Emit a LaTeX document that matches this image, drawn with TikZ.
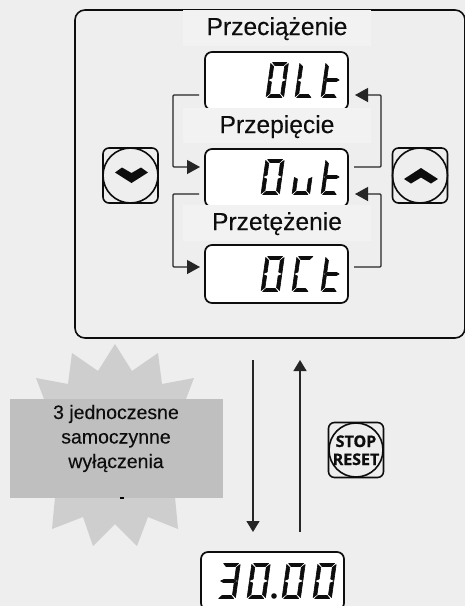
\documentclass[tikz,border=0pt]{standalone}
\usepackage{fontspec}
\setmainfont{Liberation Sans}[FakeBold=0.2]
\newfontfamily\plainfont{Liberation Sans}[FakeBold=0.2]
\newfontfamily\btnfont{Open Sans Bold}[FakeBold=0.7]
\usetikzlibrary{arrows.meta}
\definecolor{bgc}{HTML}{EEEEEE}
\definecolor{labelc}{HTML}{F2F2F2}
\definecolor{starc}{HTML}{CECECE}
\definecolor{rectc}{HTML}{BFBFBF}
\definecolor{inkc}{HTML}{0D0D0D}
\definecolor{linec}{HTML}{262626}
\tikzset{
  panelbox/.style={draw=inkc,line width=1.6pt,rounded corners=10pt,minimum width=390pt,minimum height=328pt,inner sep=0pt,outer sep=0pt},
  display/.style={draw=inkc,fill=white,line width=1.7pt,rounded corners=7pt,minimum width=143pt,minimum height=58pt,inner sep=0pt,outer sep=0pt},
  labelbox/.style={fill=labelc,minimum width=188pt,inner sep=0pt,outer sep=0pt},
  title/.style={anchor=base,font=\plainfont\fontsize{24.6}{28}\selectfont,text=inkc,inner sep=0pt},
  alarm/.style={anchor=base,font=\plainfont\fontsize{19.5}{24}\selectfont,text=inkc,inner sep=0pt},
  keybox/.style={draw=inkc,line width=1.6pt,rounded corners=6pt,minimum width=55pt,minimum height=55pt,inner sep=0pt,outer sep=0pt},
  keyring/.style={draw=inkc,line width=1.6pt,circle,minimum size=55pt,inner sep=0pt,outer sep=0pt},
  link/.style={draw=linec,line width=1.3pt,rounded corners=1pt},
  head/.style={-{Triangle[length=13pt,width=14pt]}},
  vhead/.style={-{Triangle[length=11pt,width=13pt]}},
}
% seven-segment shapes in a cell 16 wide, 35 high, origin bottom-left, y down
\newcommand\sega{(1.5,-35)--(14.5,-35)--(12,-32)--(4,-32)--cycle}
\newcommand\segb{(16,-34)--(13,-31)--(13,-19.5)--(16,-18)--cycle}
\newcommand\segc{(16,-17)--(13,-15.5)--(13,-4)--(16,-1)--cycle}
\newcommand\segd{(1.5,0)--(14.5,0)--(12,-3)--(4,-3)--cycle}
\newcommand\sege{(0,-17)--(3,-15.5)--(3,-4)--(0,-1)--cycle}
\newcommand\segf{(0,-34)--(3,-31)--(3,-19.5)--(0,-18)--cycle}
\newcommand\segg{(1,-17.5)--(3.5,-19)--(12.5,-19)--(15,-17.5)--(12.5,-16)--(3.5,-16)--cycle}
\newcommand\sevenseg[4]{%
  \begin{scope}[shift={(#1,#2)},xslant=0.14,xscale=#4]
    \foreach \s in {#3}{\filldraw[inkc,line width=0.6pt,line join=round] \csname seg\s\endcsname;}
  \end{scope}}
\begin{document}
\begin{tikzpicture}[x=1pt,y=-1pt]
  \useasboundingbox (0,0) rectangle (465,606);
  \clip (0,0) rectangle (465,606);
  \fill[bgc] (0,0) rectangle (465,606);

  % main panel
  \node[panelbox] (panel) at (270,174) {};

  % displays
  \node[display] (d1) at (276.5,81) {};
  \node[display] (d2) at (276.5,178) {};
  \node[display] (d3) at (276.5,274) {};
  \node[display] (d4) at (272.5,581) {};

  % label strips
  \node[labelbox,minimum height=36pt] (s1) at (277,28) {};
  \node[labelbox,minimum height=35pt] (s2) at (277,125.5) {};
  \node[labelbox,minimum height=36pt] (s3) at (277,223) {};
  \node[title] (t1) at (277,35) {Przeciążenie};
  \node[title] (t2) at (277,133) {Przepięcie};
  \node[title] (t3) at (277,230) {Przetężenie};

  % display glyphs
  \sevenseg{266}{97.5}{a,b,c,d,e,f}{1.1}
  \sevenseg{295}{97.5}{d,e,f}{1.1}
  \sevenseg{321}{97.5}{d,e,f,g}{1.05}
  \sevenseg{261}{194.5}{a,b,c,d,e,f}{1.15}
  \sevenseg{292}{194.5}{c,d,e}{1.1}
  \sevenseg{321}{194.5}{d,e,f,g}{1.05}
  \sevenseg{261}{291.5}{a,b,c,d,e,f}{1.15}
  \sevenseg{292}{291.5}{a,d,e,f}{1.1}
  \sevenseg{321}{291.5}{d,e,f,g}{1.05}
  \sevenseg{217}{598.5}{a,b,c,d,g}{1.15}
  \sevenseg{247}{598.5}{a,b,c,d,e,f}{1.15}
  \sevenseg{282}{598.5}{a,b,c,d,e,f}{1.15}
  \sevenseg{313}{598.5}{a,b,c,d,e,f}{1.15}
  \fill[inkc] (274,596) circle (2.8);

  % cycle connectors
  \draw[link,head] ([shift={(-6pt,-14pt)}]d1.west) -- ++(-26pt,0pt) |- ([shift={(-5pt,11pt)}]d2.west);
  \draw[link,head] ([shift={(6pt,11pt)}]d2.east) -- ++(27pt,0pt) |- ([shift={(7pt,-14pt)}]d1.east);
  \draw[link,head] ([shift={(-6pt,-16pt)}]d2.west) -- ++(-26pt,0pt) |- ([shift={(-5pt,7pt)}]d3.west);
  \draw[link,head] ([shift={(6pt,7pt)}]d3.east) -- ++(27pt,0pt) |- ([shift={(7pt,-16pt)}]d2.east);

  % keys
  \node[keybox] (kd) at (130.5,175.5) {};
  \node[keyring] (kdr) at (130.5,175.5) {};
  \fill[inkc] (115,172.5)--(122,167.5)--(131.5,173)--(141,167.5)--(148,172.5)--(131.5,183)--cycle;
  \node[keybox] (ku) at (420,175.5) {};
  \node[keyring] (kur) at (420,175.5) {};
  \fill[inkc] (404,179)--(421,168)--(438,179)--(431,183.5)--(421,177.5)--(411,183.5)--cycle;

  % alarm burst
  \fill[starc] (115,344)--(132,371)--(158,353)--(162,384)--(194,378)--(186,399)
     --(186,497)--(175,497)--(178,529)--(148,517)--(137,546)--(115,524)--(93,546)--(83,517)--(52,529)--(55,497)
     --(44,497)--(44,399)--(36,378)--(68,384)--(72,353)--(98,371)--cycle;
  \node[fill=rectc,minimum width=213pt,minimum height=99pt,inner sep=0pt,outer sep=0pt] (r) at (116.5,448.5) {};
  \fill[black] (120,497) rectangle (123.5,499);
  \node[alarm] (a1) at (116,419) {3 jednoczesne};
  \node[alarm] (a2) at (116,443.5) {samoczynne};
  \node[alarm] (a3) at (116,468) {wyłączenia};

  % vertical connectors
  \draw[link,vhead] ([shift={(-17pt,-22pt)}]panel.south) -- ([shift={(-19.5pt,20pt)}]d4.north);
  \draw[link,vhead] ([shift={(27.5pt,20pt)}]d4.north) -- ([shift={(30pt,-22pt)}]panel.south);

  % stop key
  \node[keybox] (ks) at (356,450) {};
  \node[keyring,minimum size=54pt] (ksr) at (356,450) {};
  \node[anchor=base,inner sep=0pt,font=\btnfont\fontsize{16}{18}\selectfont,text=inkc] (k1) at (356,447) {STOP};
  \node[anchor=base,inner sep=0pt,font=\btnfont\fontsize{16}{18}\selectfont,text=inkc] (k2) at (356,465) {RESET};
\end{tikzpicture}
\end{document}
